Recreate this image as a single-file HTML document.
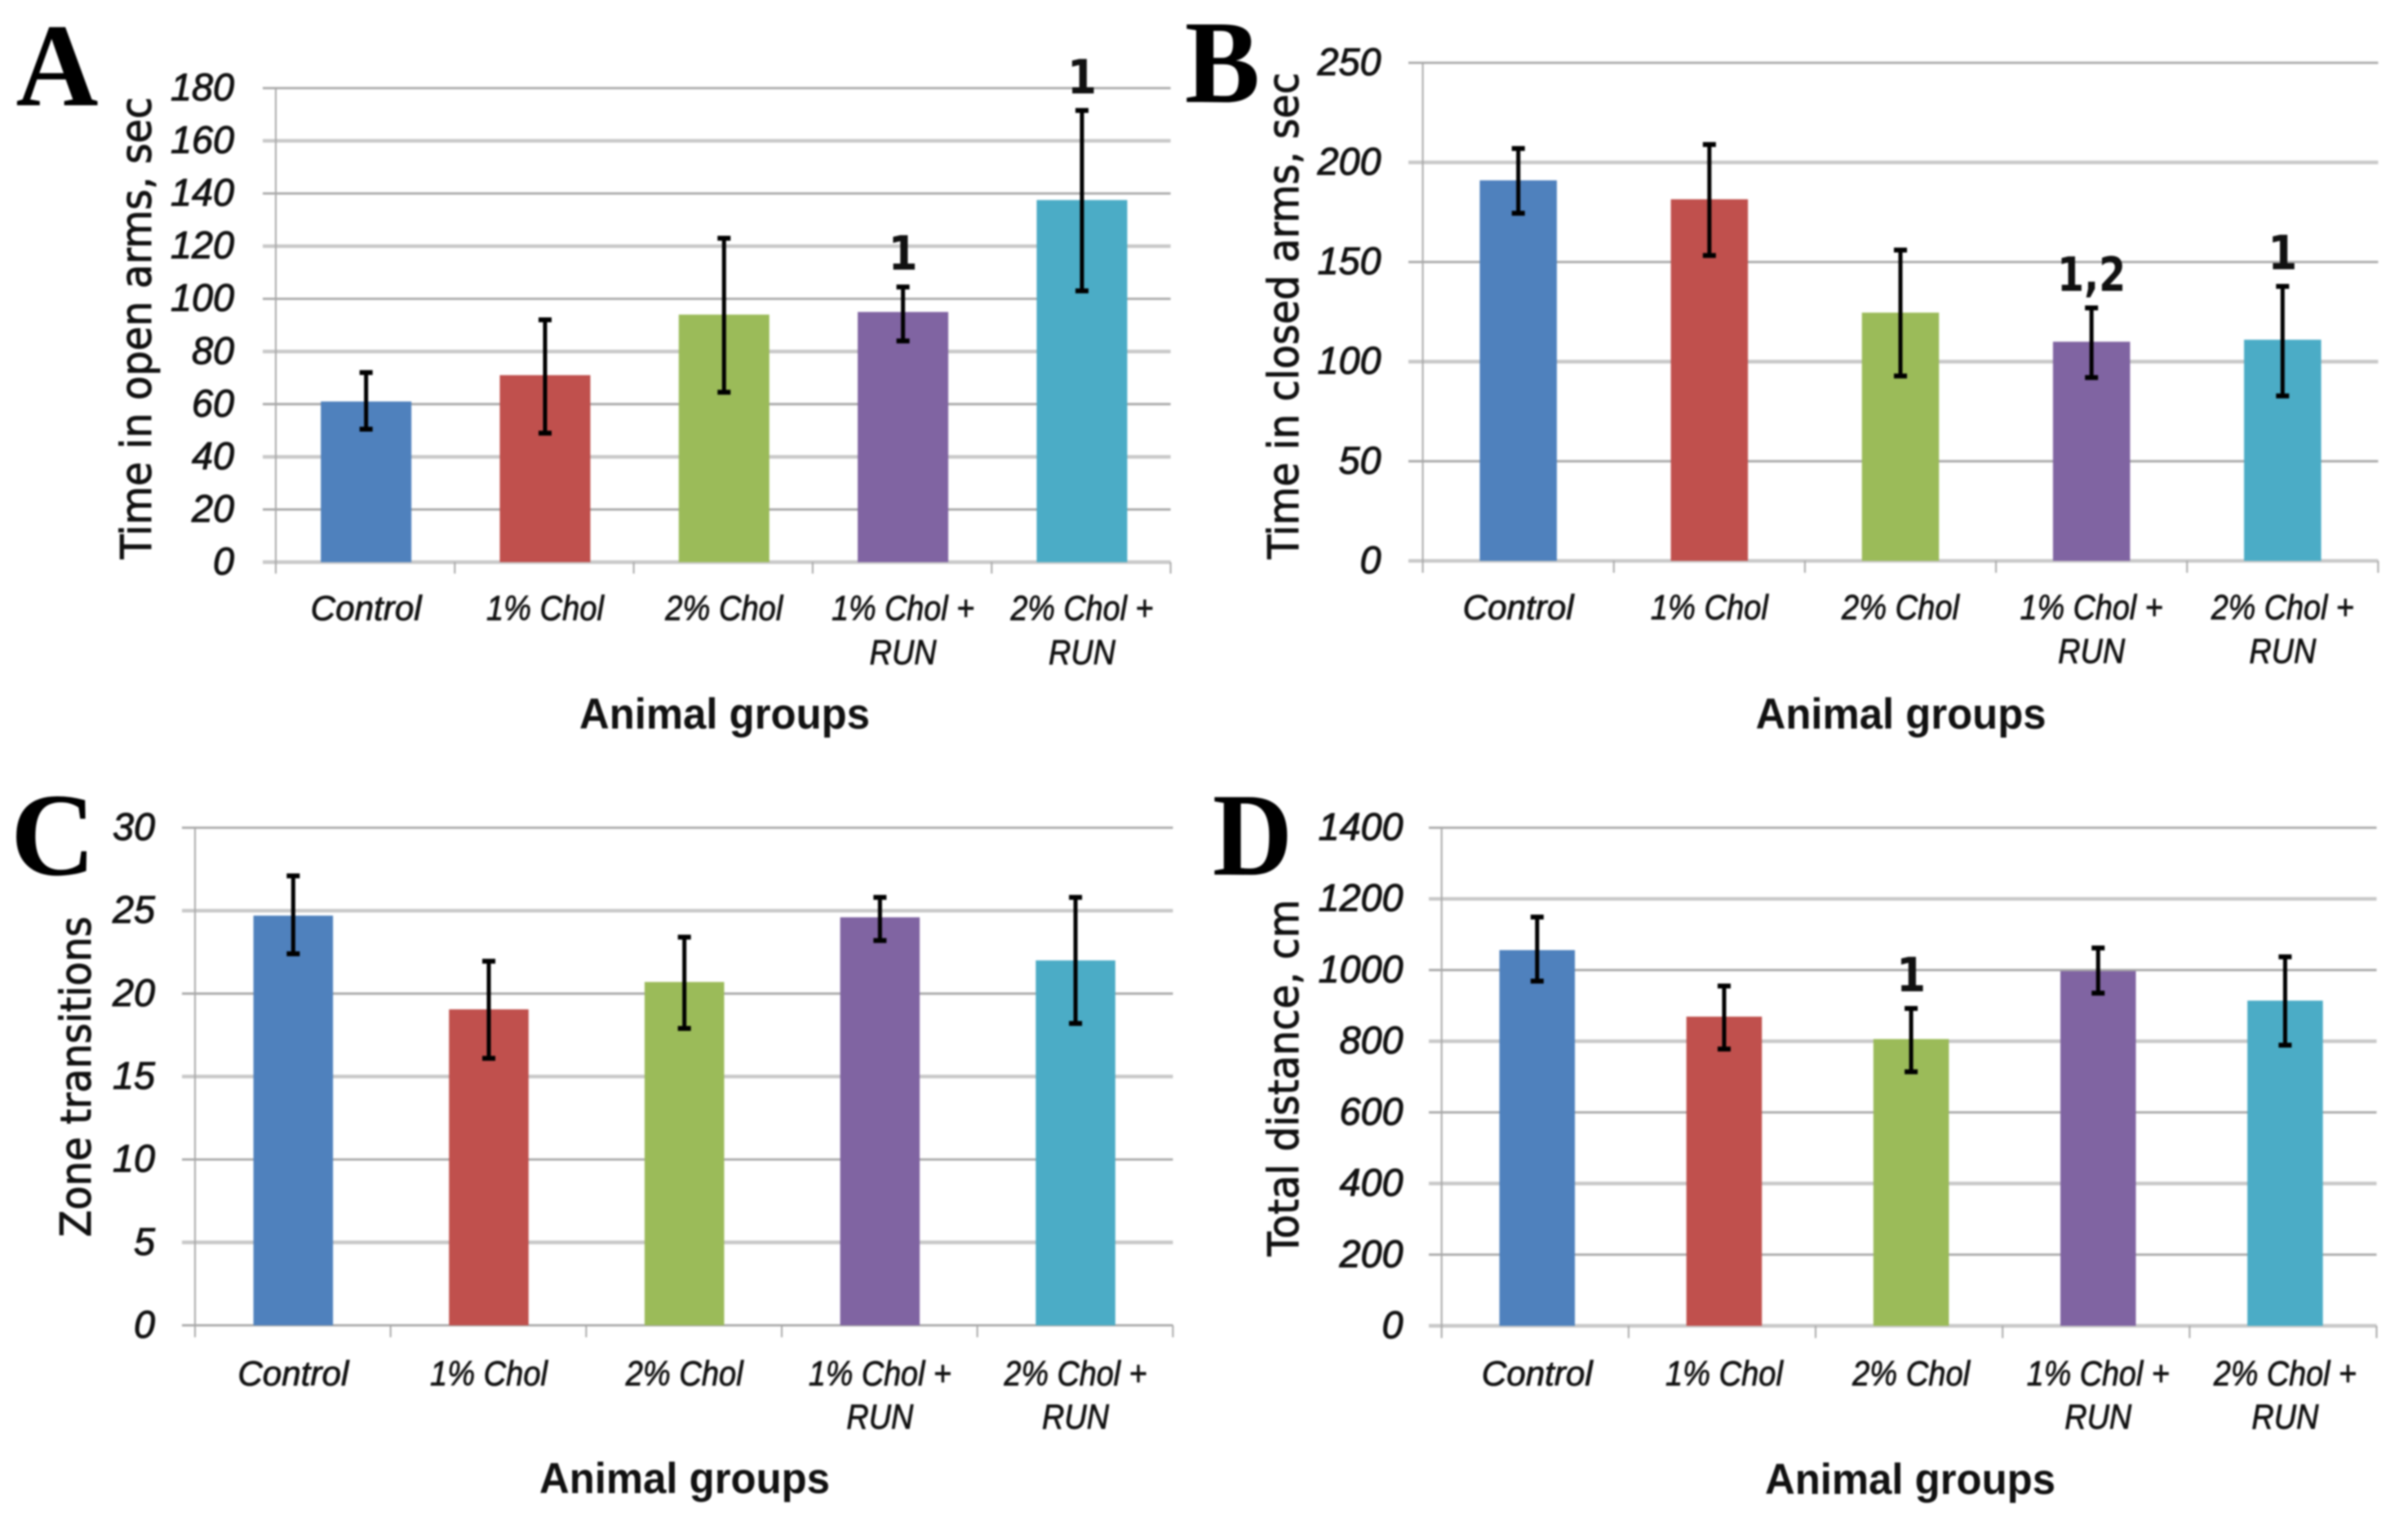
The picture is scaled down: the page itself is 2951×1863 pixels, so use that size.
<!DOCTYPE html>
<html lang="en">
<head>
<meta charset="utf-8">
<title>Animal group behaviour charts</title>
<style>
html,body{margin:0;padding:0;background:#fff;width:2951px;height:1863px;overflow:hidden}
#figure{display:block;filter:blur(1px)}
.letter{font-family:"Liberation Serif",serif;font-weight:bold;font-size:145px;fill:#000;text-anchor:middle}
.ytick{font-family:"Liberation Sans",sans-serif;font-style:italic;font-size:47px;fill:#111;stroke:#111;stroke-width:1px;text-anchor:end}
.xlabel{font-family:"Liberation Sans",sans-serif;font-style:italic;font-size:43px;fill:#111;stroke:#111;stroke-width:.8px;text-anchor:middle}
.ytitle{font-family:"DejaVu Sans",sans-serif;font-size:52px;fill:#111;stroke:#111;stroke-width:1px;text-anchor:middle}
.xtitle{font-family:"Liberation Sans",sans-serif;font-weight:bold;font-size:53px;fill:#111;text-anchor:middle}
.sig{font-family:"DejaVu Sans",sans-serif;font-weight:bold;font-size:58px;fill:#111;text-anchor:middle}
</style>
</head>
<body>
<svg id="figure" xmlns="http://www.w3.org/2000/svg" width="2951" height="1863" viewBox="0 0 2951 1863">
  <rect x="0" y="0" width="2951" height="1863" fill="#fff"/>
  <text class="letter" x="70" y="129" textLength="101" lengthAdjust="spacingAndGlyphs">A</text>
  <text class="letter" x="1498" y="125" textLength="92" lengthAdjust="spacingAndGlyphs">B</text>
  <text class="letter" x="65" y="1072" textLength="104" lengthAdjust="spacingAndGlyphs">C</text>
  <text class="letter" x="1535" y="1072" textLength="98" lengthAdjust="spacingAndGlyphs">D</text>
</svg>
<script>
// ---- shared data ----
const categories = ["Control", "1% Chol", "2% Chol", "1% Chol + RUN", "2% Chol + RUN"];
const barColors = ["#4f81bd", "#c0504d", "#9bbb59", "#8064a2", "#4bacc6"];
const xAxisTitle = "Animal groups";

// ---- panel A ----
const ticksA = [0, 20, 40, 60, 80, 100, 120, 140, 160, 180];
const valuesA = [61, 71, 94, 95, 137.5];
const errHighA = [72, 92, 123, 104.5, 171.5];
const errLowA = [50.5, 49, 64.5, 84, 103];
const sigA = ["", "", "", "1", "1"];

// ---- panel B ----
const ticksB = [0, 50, 100, 150, 200, 250];
const valuesB = [191, 181.5, 124.6, 110, 111];
const errHighB = [207, 209, 156, 127, 137.8];
const errLowB = [174.5, 153.3, 92.8, 92, 82.8];
const sigB = ["", "", "", "1,2", "1"];

// ---- panel C ----
const ticksC = [0, 5, 10, 15, 20, 25, 30];
const valuesC = [24.7, 19.05, 20.7, 24.6, 22];
const errHighC = [27.1, 21.95, 23.4, 25.8, 25.8];
const errLowC = [22.4, 16.1, 17.9, 23.2, 18.2];
const sigC = ["", "", "", "", ""];

// ---- panel D ----
const ticksD = [0, 200, 400, 600, 800, 1000, 1200, 1400];
const valuesD = [1056, 869, 806, 997, 914];
const errHighD = [1149, 955, 892, 1062, 1037];
const errLowD = [969, 778, 714, 935, 789];
const sigD = ["", "", "1", "", ""];

// ---- layout (pixels) ----
const panels = [
  {id:"a", title:"Time in open arms, sec", ticks:ticksA, values:valuesA, hi:errHighA, lo:errLowA, sig:sigA,
   left:338, right:1434.6, top:108, bottom:689, gridLeft:322, tickBottom:703, barWidth:111, shift:1,
   tickRight:287, titleX:185, titleCenter:402, titleLen:566,
   labelY:760, labelY2:814, xTitleX:888, xTitleY:893},
  {id:"b", title:"Time in closed arms, sec", ticks:ticksB, values:valuesB, hi:errHighB, lo:errLowB, sig:sigB,
   left:1743.6, right:2914.4, top:77, bottom:687.4, gridLeft:1726, tickBottom:702, barWidth:94.5, shift:0,
   tickRight:1692.5, titleX:1591, titleCenter:387, titleLen:596,
   labelY:759, labelY2:812.6, xTitleX:2329.6, xTitleY:893},
  {id:"c", title:"Zone transitions", ticks:ticksC, values:valuesC, hi:errHighC, lo:errLowC, sig:sigC,
   left:239, right:1437.4, top:1014.5, bottom:1624.4, gridLeft:223, tickBottom:1639, barWidth:97.5, shift:0.5,
   tickRight:190, titleX:111, titleCenter:1319.7, titleLen:393,
   labelY:1698, labelY2:1751, xTitleX:839, xTitleY:1830},
  {id:"d", title:"Total distance, cm", ticks:ticksD, values:valuesD, hi:errHighD, lo:errLowD, sig:sigD,
   left:1766.7, right:2912.5, top:1014.5, bottom:1625, gridLeft:1751, tickBottom:1640, barWidth:92.5, shift:2.5,
   tickRight:1719.5, titleX:1591, titleCenter:1321, titleLen:437,
   labelY:1698, labelY2:1751, xTitleX:2341, xTitleY:1831}
];
const labelWidth = {"Control":136, "1% Chol":144, "2% Chol":144, "1% Chol +":175, "2% Chol +":175, "RUN":82};

const svgNS = "http://www.w3.org/2000/svg";
const root = document.getElementById("figure");

function mk(tag, parent, attrs, text) {
  const el = document.createElementNS(svgNS, tag);
  for (const k in attrs) el.setAttribute(k, attrs[k]);
  if (text !== undefined) el.textContent = text;
  parent.appendChild(el);
  return el;
}
function wrapLabel(label) {
  const i = label.indexOf("+");
  if (i < 0) return [label];
  return [label.slice(0, i + 1), label.slice(i + 1).trim()];
}

panels.forEach(function (p) {
  const yMax = p.ticks[p.ticks.length - 1];
  const yScale = function (v) { return p.bottom - (v / yMax) * (p.bottom - p.top); };
  const band = (p.right - p.left) / categories.length;
  const xCenter = function (i) { return p.left + band * (i + 0.5) + p.shift; };

  const g = mk("g", root, {});
  
  

  // gridlines and y tick labels (resampling in the source alternates thin/dark and thick/light lines)
  p.ticks.forEach(function (t, ti) {
    const y = yScale(t);
    const thick = (p.ticks.length - 1 - ti) % 2 === 1;
    const line = mk("line", g, {x1:p.gridLeft, x2:p.right, y1:y, y2:y, stroke:thick ? "#c8c8c8" : "#a8a8a8", "stroke-width":thick ? 4.4 : 2.8});
    
    
    const label = mk("text", g, {class:"ytick", x:p.tickRight, y:y + 15, textLength:String(t).length * 26, lengthAdjust:"spacingAndGlyphs"}, String(t));
    
    
  });

  // y axis line
  const yAxis = mk("line", g, {x1:p.left, x2:p.left, y1:p.top, y2:p.tickBottom, stroke:"#a8a8a8", "stroke-width":2});
  
  

  // x axis category tick marks
  for (let i = 1; i <= categories.length; i++) {
    const x = p.left + band * i;
    const tick = mk("line", g, {x1:x, x2:x, y1:p.bottom, y2:p.tickBottom, stroke:"#a8a8a8", "stroke-width":2});
    
    
  }

  // bars, error bars, labels
  categories.forEach(function (cat, i) {
    const cx = xCenter(i);
    const yTop = yScale(p.values[i]);
    const bar = mk("rect", g, {x:cx - p.barWidth / 2, y:yTop, width:p.barWidth, height:p.bottom - yTop, fill:barColors[i]});
    
    

    const yHi = yScale(p.hi[i]);
    const yLo = yScale(p.lo[i]);
    const stem = mk("line", g, {x1:cx, x2:cx, y1:yHi, y2:yLo, stroke:"#000", "stroke-width":5});
    
    
    const capHi = mk("line", g, {x1:cx - 8, x2:cx + 8, y1:yHi, y2:yHi, stroke:"#000", "stroke-width":6});
    
    
    const capLo = mk("line", g, {x1:cx - 8, x2:cx + 8, y1:yLo, y2:yLo, stroke:"#000", "stroke-width":6});
    
    

    if (p.sig[i]) {
      const sig = mk("text", g, {class:"sig", x:cx, y:yHi - 21, textLength:p.sig[i].length > 1 ? 84 : 36, lengthAdjust:"spacingAndGlyphs"}, p.sig[i]);
      
      
    }

    wrapLabel(cat).forEach(function (line, li) {
      const attrs = {class:"xlabel", x:cx, y:li === 0 ? p.labelY : p.labelY2};
      if (labelWidth[line]) { attrs.textLength = labelWidth[line]; attrs.lengthAdjust = "spacingAndGlyphs"; }
      const lab = mk("text", g, attrs, line);
      
      
    });
  });

  // axis titles
  const yTitle = mk("text", g, {class:"ytitle", x:0, y:0, textLength:p.titleLen, lengthAdjust:"spacingAndGlyphs",
    transform:"translate(" + p.titleX + "," + p.titleCenter + ") rotate(-90)"}, p.title);
  
  

  const xTitle = mk("text", g, {class:"xtitle", x:p.xTitleX, y:p.xTitleY, textLength:356, lengthAdjust:"spacingAndGlyphs"}, xAxisTitle);
  
  
});
</script>
</body>
</html>
